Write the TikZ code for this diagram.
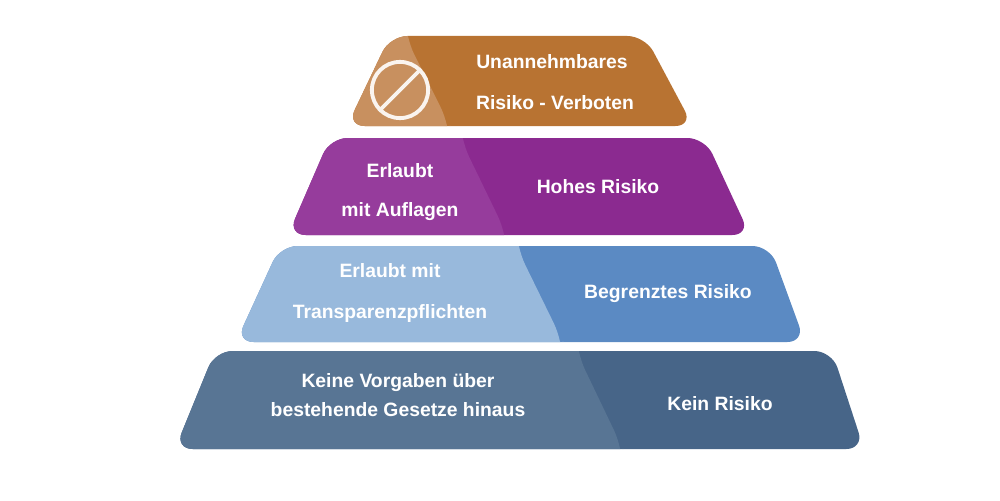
\documentclass[tikz,border=0pt]{standalone}
\usepackage{fontspec}
\setmainfont{Liberation Sans}
\begin{document}
\begin{tikzpicture}[x=0.02cm,y=-0.02cm,
  lbl/.style={text=white,font=\bfseries\fontsize{11}{13}\selectfont,align=center}]
\useasboundingbox[fill=white] (0,0) rectangle (1000,500);
\definecolor{oD}{HTML}{B87332}\definecolor{oL}{HTML}{C8905F}
\definecolor{pD}{HTML}{8B2A90}\definecolor{pL}{HTML}{963C9C}
\definecolor{bD}{HTML}{5B8AC3}\definecolor{bL}{HTML}{98B9DC}
\definecolor{gD}{HTML}{476588}\definecolor{gL}{HTML}{587594}
% tier macro-like drawing
\foreach \tt/\bt/\tl/\tr/\bl/\br/\lt/\lb/\cd/\cl in {
  36/126/390/645/347/693/405/450/oD/oL,
  138/235/330/705/288/750/460/507/pD/pL,
  246/342/280/770/236/805/516/563/bD/bL,
  351/449/215/832/175/864/576/623/gD/gL}{
  \begin{scope}
    \path[clip,rounded corners=10] (\tl,\tt) -- (\tr,\tt) -- (\br,\bt) -- (\bl,\bt) -- cycle;
    \fill[\cd] (0,0) rectangle (1000,500);
    \fill[\cl,rounded corners=12] (100,\tt-20) -- (\lt,\tt-20) -- (\lt,\tt) -- (\lb,\bt) -- (\lb,\bt+20) -- (100,\bt+20) -- cycle;
  \end{scope}
}
\node[circle,draw=white!90!oL,line width=2.2pt,minimum size=32] (icon) at (400,90) {};
\draw[white!90!oL,line width=2.2pt] (icon.45) -- (icon.225);
\node[lbl] (t1a) at (552,62) {Unannehmbares};
\node[lbl] (t1b) at (555,103) {Risiko - Verboten};
\node[lbl] (t2a) at (400,171) {Erlaubt};
\node[lbl] (t2b) at (400,212) {mit Auflagen};
\node[lbl] (t2c) at (598,187) {Hohes Risiko};
\node[lbl] (t3a) at (390,271) {Erlaubt mit};
\node[lbl] (t3b) at (390,313) {Transparenzpflichten};
\node[lbl] (t3c) at (668,294) {Begrenztes Risiko};
\node[lbl] (t4a) at (398,383) {Keine Vorgaben über};
\node[lbl] (t4b) at (398,410) {bestehende Gesetze hinaus};
\node[lbl] (t4c) at (720,404) {Kein Risiko};
\end{tikzpicture}
\end{document}
